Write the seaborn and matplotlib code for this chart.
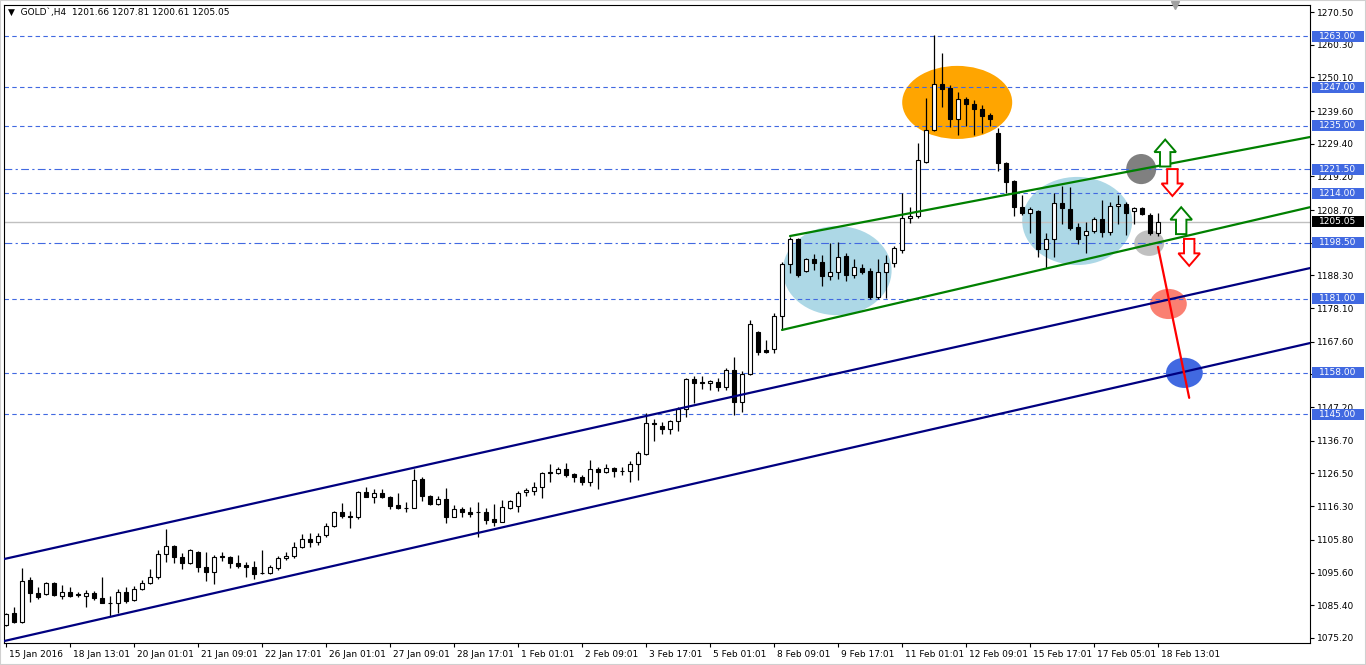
import numpy as np
import pandas as pd
import matplotlib
matplotlib.use("Agg")
import matplotlib.pyplot as plt
import matplotlib.transforms as mtransforms
from matplotlib.patches import Ellipse, Rectangle, Polygon
import seaborn as sns

# --- GOLD H4 candles (O, H, L, C) ---
opens = [1079.2, 1083.0, 1080.2, 1093.3, 1089.2, 1088.9, 1092.3, 1088.3, 1089.5, 1088.9,
         1088.3, 1089.2, 1087.7, 1086.1, 1086.1, 1089.5, 1087.0, 1090.5, 1092.3, 1094.2,
         1101.4, 1103.9, 1100.5, 1098.6, 1102.0, 1097.3, 1095.8, 1100.8, 1100.5, 1098.6,
         1098.0, 1097.3, 1095.5, 1095.5, 1097.0, 1100.1, 1100.8, 1103.6, 1106.1, 1105.1,
         1107.3, 1110.1, 1114.5, 1113.3, 1112.9, 1120.7, 1119.2, 1120.4, 1119.2, 1116.7,
         1115.7, 1115.7, 1124.8, 1119.5, 1117.0, 1118.6, 1112.9, 1115.4, 1114.5, 1114.5,
         1114.5, 1112.3, 1111.4, 1115.7, 1116.4, 1120.7, 1121.1, 1122.3, 1127.0, 1126.7,
         1127.9, 1126.4, 1125.4, 1123.9, 1127.9, 1127.0, 1128.2, 1127.3, 1127.3, 1129.5,
         1132.6, 1142.3, 1141.3, 1140.4, 1142.9, 1146.6, 1156.0, 1155.0, 1154.7, 1155.1,
         1153.5, 1158.8, 1148.8, 1157.6, 1170.7, 1165.0, 1165.4, 1175.6, 1191.9, 1199.7,
         1189.7, 1193.4, 1192.5, 1188.1, 1189.4, 1194.4, 1188.4, 1190.6, 1189.7, 1181.6,
         1189.4, 1192.2, 1196.2, 1206.2, 1206.9, 1223.7, 1233.7, 1248.0, 1246.8, 1237.1,
         1243.4, 1241.8, 1240.2, 1238.4, 1232.7, 1223.4, 1217.8, 1209.7, 1207.8, 1208.4,
         1196.6, 1199.7, 1210.9, 1209.0, 1203.4, 1200.9, 1202.2, 1205.9, 1201.9, 1210.0,
         1210.6, 1208.4, 1209.3, 1207.2, 1201.66]
highs = [1083.0, 1084.9, 1097.0, 1094.2, 1091.1, 1092.7, 1092.7, 1091.7, 1091.1, 1089.5,
         1090.2, 1089.9, 1094.2, 1088.3, 1090.5, 1091.1, 1091.4, 1093.3, 1096.7, 1102.6,
         1109.2, 1104.2, 1101.7, 1103.0, 1102.3, 1102.0, 1101.1, 1102.0, 1100.8, 1101.1,
         1098.9, 1099.2, 1102.6, 1098.0, 1100.8, 1102.0, 1105.1, 1107.6, 1107.9, 1107.9,
         1111.1, 1114.8, 1117.3, 1114.8, 1121.0, 1122.3, 1121.7, 1121.7, 1119.4, 1120.4,
         1117.6, 1127.9, 1125.4, 1119.8, 1119.5, 1122.0, 1116.7, 1116.1, 1116.1, 1117.6,
         1115.7, 1117.0, 1118.2, 1118.2, 1121.1, 1122.0, 1123.9, 1127.0, 1129.5, 1128.5,
         1129.8, 1126.7, 1126.0, 1130.7, 1128.5, 1129.5, 1128.5, 1128.5, 1130.4, 1133.5,
         1145.4, 1143.5, 1142.6, 1143.2, 1147.3, 1156.3, 1156.9, 1156.9, 1155.7, 1156.3,
         1159.4, 1163.0, 1158.5, 1174.4, 1171.0, 1168.2, 1176.6, 1192.5, 1200.3, 1200.0,
         1193.7, 1195.0, 1194.7, 1198.4, 1198.7, 1195.3, 1193.4, 1191.9, 1190.6, 1193.4,
         1194.7, 1197.5, 1214.0, 1209.7, 1229.6, 1243.7, 1263.3, 1257.7, 1247.7, 1245.5,
         1244.0, 1243.0, 1241.5, 1239.0, 1234.3, 1223.7, 1218.1, 1213.4, 1209.7, 1208.7,
         1201.5, 1214.0, 1216.2, 1215.9, 1204.7, 1205.0, 1206.5, 1211.8, 1211.2, 1213.4,
         1211.2, 1209.7, 1209.7, 1207.8, 1207.81]
lows = [1078.9, 1079.9, 1079.9, 1086.4, 1087.4, 1088.6, 1088.3, 1087.4, 1088.0, 1088.0,
        1084.9, 1087.0, 1086.1, 1082.0, 1083.0, 1086.1, 1086.7, 1090.2, 1092.0, 1093.6,
        1098.9, 1098.6, 1096.7, 1098.3, 1095.8, 1093.0, 1092.0, 1099.2, 1097.0, 1097.0,
        1094.2, 1093.6, 1095.2, 1095.2, 1096.4, 1099.5, 1100.1, 1103.3, 1103.6, 1104.2,
        1106.7, 1109.8, 1112.6, 1109.5, 1112.3, 1119.2, 1117.3, 1118.9, 1115.4, 1115.4,
        1114.5, 1115.6, 1117.9, 1116.7, 1116.7, 1111.1, 1112.9, 1112.9, 1112.9, 1106.7,
        1110.8, 1110.1, 1111.4, 1115.4, 1114.5, 1119.5, 1119.8, 1118.9, 1123.9, 1126.3,
        1125.4, 1123.9, 1122.9, 1122.6, 1121.7, 1126.7, 1125.4, 1126.0, 1123.9, 1124.5,
        1132.3, 1136.7, 1138.8, 1138.8, 1139.8, 1144.1, 1148.5, 1152.9, 1152.6, 1152.2,
        1152.6, 1144.8, 1145.7, 1157.2, 1163.5, 1164.1, 1164.1, 1171.3, 1189.1, 1187.8,
        1189.4, 1190.0, 1185.0, 1186.9, 1187.2, 1186.6, 1187.5, 1188.8, 1181.0, 1181.0,
        1181.3, 1190.9, 1195.3, 1204.7, 1206.2, 1223.4, 1233.4, 1240.9, 1234.6, 1232.1,
        1234.9, 1232.1, 1232.7, 1234.9, 1220.9, 1214.0, 1206.9, 1207.2, 1201.5, 1194.1,
        1190.6, 1194.1, 1204.4, 1202.5, 1198.1, 1195.3, 1201.5, 1200.3, 1200.9, 1204.4,
        1200.9, 1204.4, 1207.2, 1200.9, 1200.61]
closes = [1082.7, 1080.2, 1093.0, 1089.2, 1088.0, 1092.3, 1088.6, 1089.5, 1088.3, 1088.6,
          1089.2, 1087.7, 1086.1, 1086.0, 1089.5, 1086.7, 1090.5, 1092.3, 1094.2, 1101.4,
          1103.9, 1100.5, 1098.6, 1102.6, 1097.3, 1095.8, 1100.5, 1100.5, 1098.6, 1097.7,
          1097.3, 1095.2, 1095.3, 1097.3, 1100.1, 1100.8, 1103.6, 1106.1, 1105.1, 1107.0,
          1110.1, 1114.5, 1113.3, 1112.9, 1120.7, 1119.2, 1120.4, 1119.2, 1116.4, 1115.7,
          1115.6, 1124.5, 1119.5, 1117.0, 1118.6, 1112.9, 1115.4, 1114.5, 1113.9, 1114.4,
          1112.0, 1111.4, 1116.1, 1117.9, 1120.4, 1121.4, 1122.3, 1126.7, 1126.7, 1127.9,
          1126.0, 1125.4, 1123.9, 1127.9, 1127.0, 1128.2, 1127.3, 1127.2, 1129.5, 1132.9,
          1142.3, 1142.0, 1140.4, 1142.9, 1146.6, 1156.0, 1154.7, 1154.7, 1155.4, 1153.5,
          1158.8, 1148.8, 1157.6, 1173.2, 1164.4, 1164.4, 1175.7, 1191.9, 1199.7, 1188.4,
          1193.4, 1192.2, 1188.1, 1189.4, 1194.1, 1188.4, 1190.9, 1189.4, 1181.6, 1189.4,
          1192.2, 1196.9, 1206.2, 1206.9, 1224.3, 1233.7, 1248.0, 1246.5, 1237.1, 1243.4,
          1241.8, 1240.2, 1238.0, 1237.1, 1223.4, 1217.5, 1209.7, 1207.8, 1209.0, 1196.6,
          1199.7, 1210.9, 1209.3, 1203.1, 1199.7, 1202.2, 1205.9, 1201.9, 1210.0, 1210.6,
          1207.8, 1209.3, 1207.5, 1201.5, 1205.05]

time_labels = ["15 Jan 2016", "18 Jan 13:01", "20 Jan 01:01", "21 Jan 09:01", "22 Jan 17:01",
               "26 Jan 01:01", "27 Jan 09:01", "28 Jan 17:01", "1 Feb 01:01", "2 Feb 09:01",
               "3 Feb 17:01", "5 Feb 01:01", "8 Feb 09:01", "9 Feb 17:01", "11 Feb 01:01",
               "12 Feb 09:01", "15 Feb 17:01", "17 Feb 05:01", "18 Feb 13:01"]
price_ticks = [1270.50, 1260.30, 1250.10, 1239.60, 1229.40, 1219.20, 1208.70, 1198.50,
               1188.30, 1178.10, 1167.60, 1157.40, 1147.20, 1136.70, 1126.50, 1116.30,
               1105.80, 1095.60, 1085.40, 1075.20]
# scale labels that sit fully under a level box
hidden_ticks = [1198.50, 1157.40]

# horizontal levels drawn on the chart
levels = [1263.00, 1247.00, 1235.00, 1221.50, 1214.00, 1198.50, 1181.00, 1158.00, 1145.00]
level_dashdot = [False, False, False, True, False, True, False, False, False]
last_price = 1205.05

# trend lines (bar index, price)
blue_upper = ([-0.25, 163], [1099.8, 1190.6])
blue_lower = ([-0.25, 163], [1074.2, 1167.2])
green_upper = ([98, 163], [1200.6, 1231.5])
green_lower = ([97, 163], [1171.3, 1209.6])
red_line = ([144, 147.9], [1197.2, 1150.1])

# highlight ellipses: center bar, center price, width (bars), height (price), colour
ell_x = [118.9, 103.9, 133.9, 141.9, 142.9, 145.3, 147.3]
ell_y = [1242.3, 1189.8, 1205.3, 1221.5, 1198.4, 1179.4, 1157.9]
ell_w = [13.75, 13.6, 13.75, 3.75, 3.75, 4.6, 4.6]
ell_h = [22.8, 27.8, 27.5, 9.4, 8.0, 9.4, 9.4]
ell_c = ["#FFA500", "#ADD8E6", "#ADD8E6", "#808080", "#C0C0C0", "#FA8072", "#4169E1"]

# hollow arrows: center bar, base price, direction
arr_x = [144.9, 145.8, 146.9, 147.9]
arr_y = [1222.3, 1221.5, 1201.2, 1199.7]
arr_up = [True, False, True, False]

sns.set_style("white")
plt.rcParams["font.family"] = ["DejaVu Sans"]

df = pd.DataFrame({"o": opens, "h": highs, "l": lows, "c": closes})
df["i"] = np.arange(len(df))
bull = df[df.c >= df.o]
bear = df[df.c < df.o]

fig = plt.figure(figsize=(13.66, 6.65), dpi=100)
ax = fig.add_axes([4 / 1366, 22 / 665, 1306 / 1366, 638 / 665])

for x, y, w, h, c in zip(ell_x, ell_y, ell_w, ell_h, ell_c):
    ax.add_patch(Ellipse((x, y), w, h, facecolor=c, edgecolor="none", zorder=1))

for lv, dd in zip(levels, level_dashdot):
    ls = (0, (7, 3, 2, 3)) if dd else (0, (4, 3))
    ax.axhline(lv, color="#4169E1", lw=0.8, ls=ls, zorder=2)
ax.axhline(last_price, color="#C0C0C0", lw=1.0, zorder=2)

# candles
ax.vlines(df.i, df.l, df.h, color="black", lw=0.9, zorder=4)
ax.bar(bull.i, bull.c - bull.o, bottom=bull.o, width=0.42, color="white",
       edgecolor="black", linewidth=0.8, zorder=5)
ax.bar(bear.i, bear.o - bear.c, bottom=bear.c, width=0.42, color="black",
       edgecolor="black", linewidth=0.8, zorder=5)

# trend lines
for (lx, ly), col in [(blue_upper, "#000080"), (blue_lower, "#000080"),
                      (green_upper, "#008000"), (green_lower, "#008000"),
                      (red_line, "#FF0000")]:
    sns.lineplot(x=lx, y=ly, color=col, lw=1.6, ax=ax, zorder=6)

# hollow arrows
aw, sw, ah, hl = 1.35, 0.65, 8.4, 3.9
for x, y, upd in zip(arr_x, arr_y, arr_up):
    s = 1 if upd else -1
    pts = [(x - sw, y), (x + sw, y), (x + sw, y + s * (ah - hl)), (x + aw, y + s * (ah - hl)),
           (x, y + s * ah), (x - aw, y + s * (ah - hl)), (x - sw, y + s * (ah - hl))]
    ax.add_patch(Polygon(pts, closed=True, facecolor="white",
                         edgecolor="#008000" if upd else "#FF0000", lw=1.4, zorder=7))

ax.set_xlim(-0.25, 163)
ax.set_ylim(1073.6, 1272.7)
ax.set_xlabel("")
ax.set_ylabel("")

# axes and ticks
ax.yaxis.tick_right()
ax.set_yticks(price_ticks)
ax.set_yticklabels(["" if v in hidden_ticks else f"{v:.2f}" for v in price_ticks])
ax.set_xticks(np.arange(0, len(df), 8))
ax.set_xticklabels(time_labels, ha="left")
ax.tick_params(axis="y", right=True, length=3, width=0.8, pad=2, labelsize=6.5, colors="black")
ax.tick_params(axis="x", bottom=True, length=3, width=0.8, pad=2, labelsize=6.5, colors="black")
off = mtransforms.ScaledTranslation(2 / 72, 0, fig.dpi_scale_trans)
for lab in ax.get_xticklabels():
    lab.set_transform(lab.get_transform() + off)
for sp in ax.spines.values():
    sp.set_color("black")
    sp.set_linewidth(0.8)

# price labels on the right scale
tr = mtransforms.blended_transform_factory(ax.transAxes, ax.transData)
bh = 3.4
for lv in levels + [last_price]:
    bg = "black" if lv == last_price else "#4169E1"
    ax.add_patch(Rectangle((1.0015, lv - bh / 2), 0.0398, bh, transform=tr, facecolor=bg,
                           edgecolor="none", clip_on=False, zorder=10))
    ax.text(1.0214, lv, f"{lv:.2f}", transform=tr, ha="center", va="center",
            fontsize=6.5, color="white", zorder=11, clip_on=False)

ax.text(0.003, 0.989, "\u25BC  GOLD`,H4  1201.66 1207.81 1200.61 1205.05",
        transform=ax.transAxes, ha="left", va="center", fontsize=6.5, color="black", zorder=12)
ax.plot([0.8966], [1.0], marker="v", markersize=6, color="#A0A0A0", transform=ax.transAxes,
        clip_on=False, zorder=12)

fig.patches.append(Rectangle((0, 0), 1, 1, transform=fig.transFigure, fill=False,
                             edgecolor="#D0D0D0", lw=1.5))

fig.savefig("out.png", dpi=100, facecolor="white")
